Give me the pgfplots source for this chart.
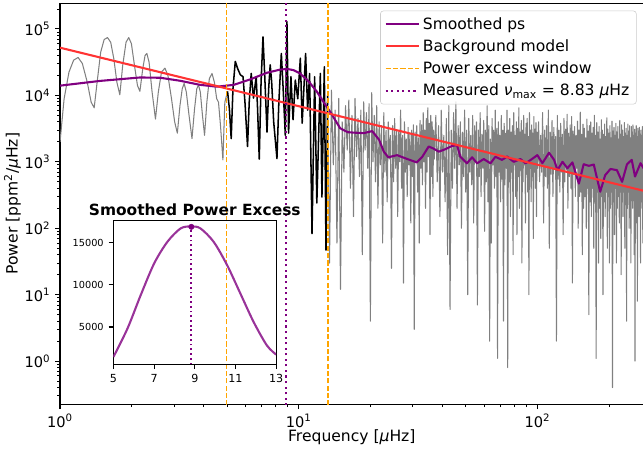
\documentclass[border=0pt]{standalone}
\usepackage{fontspec}
\setmainfont{DejaVu Sans}
\usepackage{pgfplots}
\usepackage{pgfplotstable}
\pgfplotsset{compat=1.18}

\definecolor{specgray}{HTML}{808080}
\definecolor{smpurple}{HTML}{800080}
\definecolor{bgred}{RGB}{255,51,51}
\definecolor{winorange}{HTML}{FFA500}
\definecolor{inpurple}{RGB}{153,51,153}
\definecolor{legframe}{RGB}{204,204,204}

% power spectrum, below the excess window
\pgfplotstableread[row sep=\\]{
f p\\
1.00 2000\\ 1.04 8900\\ 1.09 22400\\ 1.14 33900\\ 1.19 37200\\ 1.24 30200\\
1.30 15800\\ 1.35 7900\\ 1.39 6500\\ 1.43 15800\\ 1.48 44700\\ 1.53 69200\\
1.58 74100\\ 1.63 63100\\ 1.68 35500\\ 1.73 15800\\ 1.78 10200\\ 1.83 28200\\
1.89 63100\\ 1.94 74100\\ 1.99 60300\\ 2.05 28200\\ 2.11 14100\\ 2.16 11500\\
2.22 25100\\ 2.27 39800\\ 2.31 42700\\ 2.36 31600\\ 2.43 11200\\ 2.51 4400\\
2.58 11200\\ 2.66 22400\\ 2.75 25700\\ 2.83 20000\\ 2.93 8900\\ 3.02 4000\\
3.10 2700\\ 3.18 7100\\ 3.25 12600\\ 3.31 15100\\ 3.38 11200\\ 3.47 5000\\
3.57 2240\\ 3.66 6300\\ 3.74 12600\\ 3.80 14400\\ 3.87 11200\\ 3.95 5000\\
4.03 2500\\ 4.12 7900\\ 4.22 17800\\ 4.33 21400\\ 4.43 15800\\ 4.53 8900\\
4.61 7900\\ 4.70 3500\\ 4.81 1070\\ 4.90 7900\\ 5.03 11500\\
}\lowtab

% power spectrum inside the excess window
\pgfplotstableread[row sep=\\]{
f p\\
5.03 11500\\ 5.12 6300\\ 5.21 2240\\ 5.30 12600\\ 5.42 32400\\ 5.55 25100\\
5.69 20400\\ 5.84 19100\\ 5.95 7900\\ 6.10 1700\\ 6.20 7900\\ 6.32 21400\\
6.46 9100\\ 6.63 19100\\ 6.72 6300\\ 6.83 1100\\ 6.95 15800\\ 7.08 75900\\
7.20 20000\\ 7.36 2800\\ 7.48 12600\\ 7.59 28800\\ 7.70 15800\\ 7.85 4000\\
8.10 1120\\ 8.25 7900\\ 8.45 42700\\ 8.60 12600\\ 8.78 2500\\ 8.92 128800\\
9.06 2700\\ 9.27 19100\\ 9.46 4300\\ 9.67 17000\\ 9.90 8900\\ 10.15 36300\\
10.33 3800\\ 10.68 42700\\ 10.89 6000\\ 11.10 21400\\ 11.36 83\\ 11.65 19100\\
11.90 240\\ 12.31 21400\\ 12.50 295\\ 12.79 26900\\ 13.00 47\\ 13.20 10000\\
}\wintab

% power spectrum, above the excess window
\pgfplotstableread[row sep=\\]{
f p\\
13.20 10000\\ 13.45 30\\ 13.70 12000\\ 13.95 900\\ 14.20 6000\\ 14.45 60\\
14.70 9000\\ 14.95 12\\ 15.20 4000\\ 15.45 700\\ 15.70 7000\\ 15.95 1500\\
16.20 8500\\ 16.45 400\\ 16.70 5000\\ 16.95 150\\ 17.20 9000\\ 17.45 1200\\
17.70 4500\\ 17.95 600\\ 18.20 6000\\ 18.45 40\\ 18.70 8000\\ 18.95 1500\\
19.20 5500\\ 19.45 800\\ 19.70 7500\\ 19.95 4\\ 20.20 11000\\ 20.45 1000\\
20.70 5000\\ 20.95 500\\ 21.20 7000\\ 21.45 200\\ 21.70 4000\\ 21.95 900\\
22.20 3500\\ 22.45 60\\ 22.70 5500\\ 22.95 700\\ 23.20 3000\\ 23.45 250\\
23.70 4000\\ 23.95 1100\\ 24.20 2500\\ 24.45 25\\ 24.70 3500\\ 24.95 500\\
25.20 4500\\ 25.45 800\\ 25.70 3000\\ 25.95 150\\ 26.20 2800\\ 26.45 1000\\
26.70 6000\\ 26.95 400\\ 27.20 2500\\ 27.45 15\\ 27.70 4000\\ 27.95 700\\
28.20 2200\\ 28.45 300\\ 28.70 3300\\ 28.95 900\\ 29.20 2600\\ 29.45 120\\
29.70 3000\\ 29.95 600\\ 30.20 3600\\ 30.45 3\\ 30.70 2800\\ 30.95 1000\\
31.20 3500\\ 31.45 350\\ 31.70 2300\\ 31.95 60\\ 32.20 4200\\ 32.45 800\\
32.70 3600\\ 32.95 450\\ 33.20 5500\\ 33.45 1000\\ 33.70 3000\\ 33.95 200\\
34.20 4500\\ 34.45 700\\ 34.70 6500\\ 34.95 1200\\ 35.20 3800\\ 35.45 80\\
35.70 5000\\ 35.95 600\\ 36.20 4000\\ 36.45 300\\ 36.70 3000\\ 36.95 1100\\
37.5 5000\\ 38 500\\ 38.5 3500\\ 39 150\\ 39.5 6000\\ 40 700\\ 40.5 2500\\ 41 250\\
41.5 4500\\ 42 40\\ 42.5 7000\\ 43 6\\ 43.5 3000\\ 44 400\\ 44.5 5500\\ 45 800\\
45.5 8000\\ 46 200\\ 46.5 3500\\ 47 900\\ 47.5 4000\\ 48 100\\ 48.5 2800\\ 49 600\\
49.5 6000\\ 50 350\\ 50.5 3000\\ 51 10\\ 51.5 4500\\ 52 700\\ 52.5 2500\\ 53 450\\
53.5 5000\\ 54 120\\ 54.5 3500\\ 55 1000\\ 55.5 4000\\ 56 7\\ 56.5 3000\\ 57 600\\
57.5 5500\\ 58 300\\ 58.5 2600\\ 59 800\\ 59.5 4200\\ 60 90\\ 60.5 3000\\ 61 500\\
61.5 7000\\ 62 250\\ 62.5 3500\\ 63 2\\ 63.5 2200\\ 64 60\\ 64.5 4500\\ 65 900\\
65.5 3000\\ 66 400\\ 66.5 6000\\ 67 600\\ 67.5 3200\\ 68 1.1\\ 68.5 4000\\ 69 700\\
69.5 2500\\ 70 250\\ 70.5 5000\\ 71 550\\ 71.5 3000\\ 72 4\\ 72.5 3800\\ 73 450\\
73.5 2700\\ 74 800\\ 74.5 6000\\ 75 0.8\\ 75.5 3000\\ 76 500\\ 76.5 4500\\ 77 150\\
77.5 2800\\ 78 700\\ 78.5 3500\\ 79 40\\ 79.5 5500\\ 80 900\\ 80.5 2500\\ 81 300\\
81.5 4000\\ 82 80\\ 82.5 3200\\ 83 600\\ 83.5 6500\\ 84 200\\ 84.5 2800\\ 85 750\\
85.5 4200\\ 86 30\\ 86.5 3000\\ 87 500\\ 87.5 5000\\ 88 900\\ 88.5 2600\\ 89 120\\
89.5 3800\\ 90 650\\ 90.5 4500\\ 91 350\\ 91.5 2400\\ 92 10\\ 92.5 5500\\ 93 800\\
93.5 3000\\ 94 250\\ 94.5 3600\\ 95 600\\ 95.5 2700\\ 96 70\\ 96.5 4800\\ 97 700\\
97.5 3100\\ 98 400\\ 98.5 3900\\ 99 150\\ 99.5 2800\\ 100 800\\
101 4000\\ 102 500\\ 103 2500\\ 104 700\\ 105 5500\\ 106 120\\ 107 3000\\ 108 600\\
109 3500\\ 110 400\\ 111 6000\\ 112 50\\ 113 2800\\ 114 650\\ 115 4200\\ 116 300\\
117 3300\\ 118 800\\ 119 2400\\ 120 2\\ 121 5000\\ 122 550\\ 123 3000\\ 124 350\\
125 3800\\ 126 700\\ 127 2600\\ 128 80\\ 129 4500\\ 130 500\\ 131 3100\\ 132 750\\
133 5200\\ 134 200\\ 135 2700\\ 136 600\\ 137 3600\\ 138 400\\ 139 4800\\ 140 15\\
141 2900\\ 142 650\\ 143 3400\\ 144 300\\ 145 2500\\ 146 800\\ 147 4100\\ 148 100\\
149 3000\\ 150 300\\ 151 5600\\ 152 350\\ 153 2600\\ 154 40\\ 155 3700\\ 156 200\\
157 3200\\ 158 300\\ 159 2300\\ 160 100\\ 161 4400\\ 162 400\\ 163 2900\\ 164 5\\
165 3500\\ 166 250\\ 167 4000\\ 168 150\\ 169 2700\\ 170 400\\ 171 3300\\ 172 50\\
173 5000\\ 174 250\\ 175 2500\\ 176 1.1\\ 177 3900\\ 178 350\\ 179 2800\\ 180 30\\
181 3400\\ 182 200\\ 183 2200\\ 184 70\\ 185 4300\\ 186 300\\ 187 3000\\ 188 10\\
189 2600\\ 190 250\\ 191 3700\\ 192 150\\ 193 2400\\ 194 350\\ 195 4600\\ 196 50\\
197 3100\\ 198 300\\ 199 2700\\ 200 30\\ 201 3500\\ 202 200\\ 203 2300\\ 204 350\\
205 4100\\ 206 0.4\\ 207 2900\\ 208 250\\ 209 3300\\ 210 80\\ 211 2500\\ 212 400\\
213 3800\\ 214 30\\ 215 2800\\ 216 200\\ 217 3400\\ 218 300\\ 219 2200\\ 220 120\\
221 4200\\ 222 350\\ 223 2600\\ 224 20\\ 225 3600\\ 226 250\\ 227 3000\\ 228 150\\
229 2400\\ 230 350\\ 231 3900\\ 232 50\\ 233 2700\\ 234 300\\ 235 3200\\ 236 4\\
237 2500\\ 238 200\\ 239 3700\\ 240 350\\ 241 2900\\ 242 100\\ 243 3500\\ 244 250\\
245 2300\\ 246 30\\ 247 3400\\ 248 300\\ 249 2800\\ 250 200\\ 251 3600\\ 252 350\\
253 2500\\ 254 40\\ 255 3100\\ 256 1\\ 257 2700\\ 258 120\\ 259 3500\\ 260 350\\
261 2400\\ 262 8\\ 263 3200\\ 264 250\\ 265 2900\\ 266 150\\ 267 3300\\ 268 300\\
269 2600\\ 270 30\\ 271 3000\\ 272 250\\ 273 2500\\ 274 200\\ 275 3400\\ 276 60\\
277 2700\\ 278 250\\ 279 3000\\
}\hightab

% smoothed power spectrum
\pgfplotstableread[row sep=\\]{
f p\\
1.0 14000\\ 1.47 16500\\ 2.165 18600\\ 2.63 18400\\ 3.18 16600\\ 3.86 14400\\
4.54 13500\\ 5.34 14400\\ 6.26 17400\\ 7.36 21900\\ 8.3 24300\\ 8.92 25000\\
9.5 24000\\ 10.1 21500\\ 11.0 16200\\ 11.9 11400\\ 12.8 7600\\ 13.6 5500\\
14.9 3200\\ 16.0 2800\\ 16.96 2750\\ 18.7 2700\\ 20.3 2900\\ 21.7 2140\\
22.7 1420\\ 23.7 1170\\ 25.8 1260\\ 28.5 1100\\ 31.2 980\\ 32.9 1190\\
35.0 1700\\ 36.7 1580\\ 38.6 1420\\ 41.1 1550\\ 43.8 1730\\ 46.0 1780\\
47.5 1190\\ 50.6 950\\ 53.2 1170\\ 55.8 950\\ 59.5 1100\\ 63.5 950\\
66.6 1190\\ 71.0 1070\\ 74.6 1200\\ 79.5 1000\\ 84.8 1100\\ 89.1 950\\
93.7 1070\\ 99.8 1260\\ 104.8 955\\ 111.7 1370\\ 117.3 1070\\ 121.2 750\\
127.2 1000\\ 133.4 800\\ 140 980\\ 149 470\\ 156 920\\ 164 870\\
172 910\\ 183 355\\ 192 630\\ 202 780\\ 215 750\\ 226 500\\
237 920\\ 248 1070\\ 256 600\\ 270 955\\ 278 800\\
}\smtab

% smoothed power excess (inset)
\pgfplotstableread[row sep=\\]{
f p\\
5.0 1450\\ 5.69 4810\\ 6.34 8760\\ 7.0 12510\\ 7.65 15070\\ 8.3 16660\\
8.83 16900\\ 9.28 16660\\ 9.93 15070\\ 10.59 12310\\ 11.24 8960\\ 11.89 5600\\
12.54 2830\\ 13.0 1730\\
}\extab

\begin{document}
\begin{tikzpicture}
\begin{axis}[
  name=main, at={(0pt,0pt)}, anchor=south west,
  width=419.8pt, height=288.7pt, scale only axis,
  xmode=log, ymode=log,
  xmin=1, xmax=278, ymin=0.224, ymax=2.45e5,
  axis line style={line width=0.8pt},
  tick style={line width=0.8pt, black},
  minor tick style={line width=0.6pt},
  major tick length=3.5pt, minor tick length=2pt,
  tick align=outside, tick pos=left,
  xtick={1,10,100},
  xticklabels={10\textsuperscript{0},10\textsuperscript{1},10\textsuperscript{2}},
  ytick={1,10,100,1000,10000,100000},
  yticklabels={10\textsuperscript{0},10\textsuperscript{1},10\textsuperscript{2},10\textsuperscript{3},10\textsuperscript{4},10\textsuperscript{5}},
  minor xtick={2,3,4,5,6,7,8,9,20,30,40,50,60,70,80,90,200},
  minor ytick={0.3,0.4,0.5,0.6,0.7,0.8,0.9,2,3,4,5,6,7,8,9,20,30,40,50,60,70,80,90,200,300,400,500,600,700,800,900,2000,3000,4000,5000,6000,7000,8000,9000,20000,30000,40000,50000,60000,70000,80000,90000,200000},
  ticklabel style={font=\fontsize{10.5}{12.6}\selectfont},
  xlabel={Frequency [{\itshape μ}Hz]},
  ylabel={Power [ppm\textsuperscript{2}/{\itshape μ}Hz]},
  label style={font=\fontsize{11.2}{13.4}\selectfont},
  xlabel style={at={(axis description cs:0.5,0)}, anchor=center, yshift=-23.8pt},
  ylabel style={at={(axis description cs:-0.0815,0.5)}, anchor=center},
  legend style={at={(0.988,0.981)}, anchor=north east, draw=legframe,
    rounded corners=2pt, fill=white, fill opacity=0.8, text opacity=1,
    font=\fontsize{11.2}{13.4}\selectfont, inner xsep=3pt, inner ysep=2.5pt,
    row sep=2pt},
  legend cell align=left,
  legend image code/.code={\draw[#1] (0pt,0pt) -- (24pt,0pt);},
]
\addplot[specgray, line width=0.75pt, line join=round, forget plot] table[x=f,y=p]{\lowtab};
\addplot[specgray, line width=0.75pt, line join=round, forget plot] table[x=f,y=p]{\hightab};
\addplot[black, line width=1.1pt, line join=round, forget plot] table[x=f,y=p]{\wintab};

\addplot[smpurple, line width=1.5pt, line join=round] table[x=f,y=p]{\smtab};
\addlegendentry{Smoothed ps}
\addplot[bgred, line width=1.5pt] coordinates {(1,52200) (3,19860) (10,6870) (30,2610) (100,904) (278,367)};
\addlegendentry{Background model}
\addplot[winorange, line width=0.8pt, dash pattern=on 3.7pt off 1.6pt] coordinates {(5.0,0.1) (5.0,1e6)};
\addlegendentry{Power excess window}
\addplot[winorange, line width=0.8pt, dash pattern=on 3.7pt off 1.6pt, forget plot] coordinates {(13.25,0.1) (13.25,1e6)};
\addplot[smpurple, line width=1.5pt, dash pattern=on 1.5pt off 2.5pt] coordinates {(8.83,0.1) (8.83,1e6)};
\addlegendentry{Measured {\itshape ν}\textsubscript{max} = 8.83 {\itshape μ}Hz}
\end{axis}

\begin{axis}[
  name=inset, at={(38.4pt,28.8pt)}, anchor=south west,
  width=117.1pt, height=103.7pt, scale only axis,
  xmin=5, xmax=13, ymin=580, ymax=17640,
  scaled y ticks=false,
  xtick={5,7,9,11,13}, xticklabels={5,7,9,11,13},
  ytick={5000,10000,15000}, yticklabels={5000,10000,15000},
  axis line style={line width=0.8pt},
  tick style={line width=0.8pt, black},
  major tick length=3.5pt, tick align=outside, tick pos=left,
  xticklabel style={font=\fontsize{8}{9.6}\selectfont},
  yticklabel style={font=\fontsize{7}{8.4}\selectfont},
  title={Smoothed Power Excess},
  title style={font=\fontsize{11.1}{13}\selectfont\bfseries, inner sep=0pt,
    at={(0.5,1)}, anchor=south, yshift=-3pt},
]
\addplot[inpurple, line width=1.5pt, smooth] table[x=f,y=p]{\extab};
\addplot[smpurple, line width=1.3pt, dash pattern=on 1.3pt off 2.1pt] coordinates {(8.83,580) (8.83,16850)};
\addplot[smpurple, only marks, mark=*, mark size=1.9pt] coordinates {(8.83,16850)};
\end{axis}

\pgfresetboundingbox
\path[use as bounding box] (-43.2pt,-36pt) rectangle (419.4pt,290.9pt);
\end{tikzpicture}
\end{document}
